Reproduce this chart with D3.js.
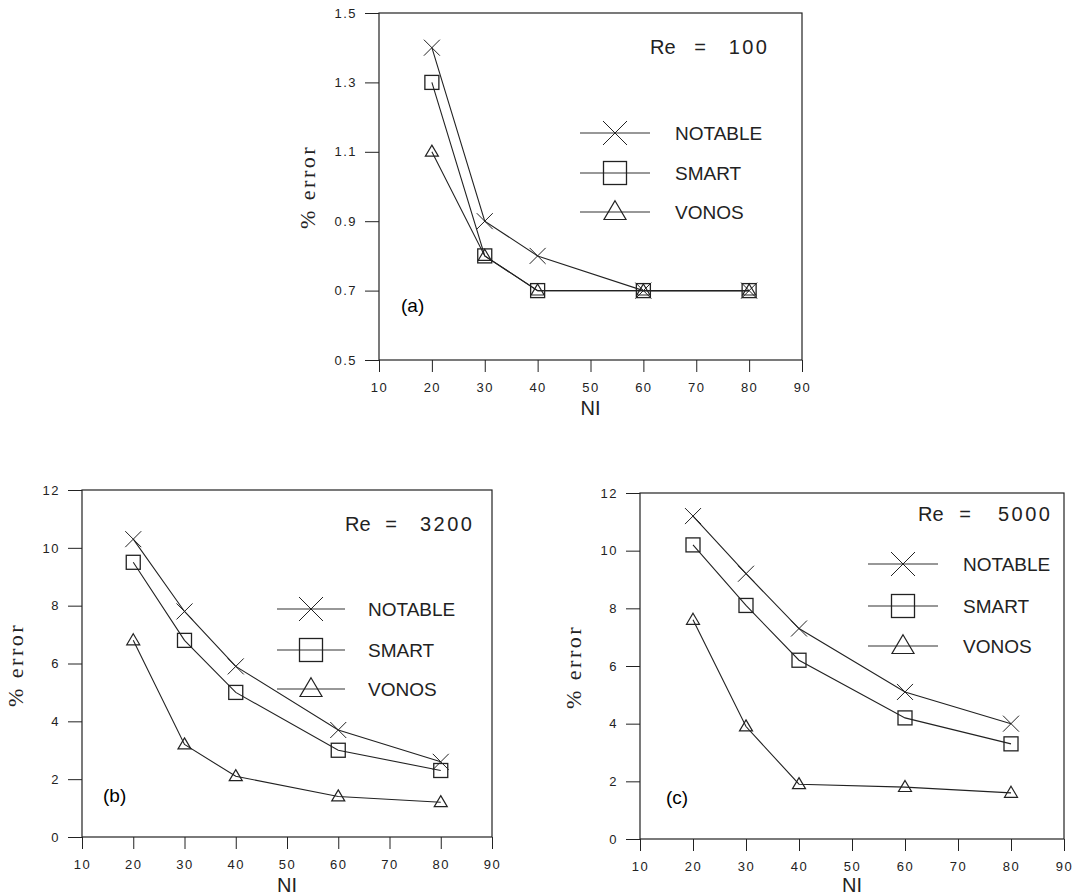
<!DOCTYPE html>
<html>
<head>
<meta charset="utf-8">
<script src="https://cdn.jsdelivr.net/npm/d3@7"></script>
<style>
  body { margin: 0; background: #fff; }
  svg { display: block; }
  text { font-family: "Liberation Sans", Arial, sans-serif; fill: #222; }
</style>
</head>
<body>
<script>
// grid sizes (x values) shared by all three panels
const ni = [20, 30, 40, 60, 80];
const seriesNames = ["NOTABLE", "SMART", "VONOS"];

// Re = 100
const re100Notable = [1.4, 0.9, 0.8, 0.7, 0.7];
const re100Smart = [1.3, 0.8, 0.7, 0.7, 0.7];
const re100Vonos = [1.1, 0.8, 0.7, 0.7, 0.7];

// Re = 3200
const re3200Notable = [10.3, 7.8, 5.9, 3.7, 2.6];
const re3200Smart = [9.5, 6.8, 5.0, 3.0, 2.3];
const re3200Vonos = [6.8, 3.2, 2.1, 1.4, 1.2];

// Re = 5000
const re5000Notable = [11.2, 9.2, 7.3, 5.1, 4.0];
const re5000Smart = [10.2, 8.1, 6.2, 4.2, 3.3];
const re5000Vonos = [7.6, 3.9, 1.9, 1.8, 1.6];

// ticks
const xTicks = [10, 20, 30, 40, 50, 60, 70, 80, 90];
const yTicksA = [0.5, 0.7, 0.9, 1.1, 1.3, 1.5];
const yTicksBC = [0, 2, 4, 6, 8, 10, 12];

const width = 1074, height = 896;

const svg = d3.select("body").append("svg")
  .attr("width", width)
  .attr("height", height);

// panel layout
const panels = [
  {
    tag: "(a)", reNum: "100",
    box: { l: 379, r: 802, t: 13, b: 360 },
    yDomain: [0.5, 1.5], yTicks: yTicksA, yFmt: d3.format(".1f"),
    series: [re100Notable, re100Smart, re100Vonos],
    reBox: { x0: 650, xe: 700, x1: 767, y: 54 },
    legend: { x0: 580, x1: 650, mx: 615, tx: 675, ys: [133, 173, 212] },
    tagPos: { x: 401, y: 312 },
    ylab: { x: 307, y: 187 }
  },
  {
    tag: "(b)", reNum: "3200",
    box: { l: 82, r: 492, t: 490, b: 837 },
    yDomain: [0, 12], yTicks: yTicksBC, yFmt: d3.format("d"),
    series: [re3200Notable, re3200Smart, re3200Vonos],
    reBox: { x0: 345, xe: 391, x1: 472, y: 531 },
    legend: { x0: 277, x1: 345, mx: 311, tx: 368, ys: [609, 650, 689] },
    tagPos: { x: 103, y: 802 },
    ylab: { x: 15, y: 665 }
  },
  {
    tag: "(c)", reNum: "5000",
    box: { l: 640, r: 1064, t: 493, b: 839 },
    yDomain: [0, 12], yTicks: yTicksBC, yFmt: d3.format("d"),
    series: [re5000Notable, re5000Smart, re5000Vonos],
    reBox: { x0: 918, xe: 965, x1: 1050, y: 521 },
    legend: { x0: 868, x1: 938, mx: 903, tx: 963, ys: [564, 606, 646] },
    tagPos: { x: 666, y: 804 },
    ylab: { x: 573, y: 667 }
  }
];

// marker drawing
function drawMarker(g, kind, cx, cy, s) {
  if (kind === 0) {
    g.append("path")
      .attr("d", `M${cx - s},${cy - s}L${cx + s},${cy + s}M${cx - s},${cy + s}L${cx + s},${cy - s}`)
      .attr("stroke", "#222").attr("stroke-width", 1).attr("fill", "none");
  } else if (kind === 1) {
    g.append("rect")
      .attr("x", cx - s).attr("y", cy - s)
      .attr("width", 2 * s).attr("height", 2 * s)
      .attr("stroke", "#222").attr("stroke-width", 1.3).attr("fill", "none");
  } else {
    const h = s * 1.7;
    g.append("path")
      .attr("d", `M${cx},${cy - h * 0.6}L${cx + s},${cy + h * 0.4}L${cx - s},${cy + h * 0.4}Z`)
      .attr("stroke", "#222").attr("stroke-width", 1.2).attr("fill", "none");
  }
}

const dataSize = [8, 7, 6.5];
const legendSize = [12, 11.5, 11];

panels.forEach(p => {
  const g = svg.append("g");
  const x = d3.scaleLinear().domain([10, 90]).range([p.box.l, p.box.r]);
  const y = d3.scaleLinear().domain(p.yDomain).range([p.box.b, p.box.t]);

  // frame
  g.append("rect")
    .attr("x", p.box.l).attr("y", p.box.t)
    .attr("width", p.box.r - p.box.l).attr("height", p.box.b - p.box.t)
    .attr("fill", "none").attr("stroke", "#222").attr("stroke-width", 1.2);

  // x axis
  const xAxis = d3.axisBottom(x).tickValues(xTicks).tickSize(12).tickPadding(11);
  const gx = g.append("g").attr("transform", `translate(0,${p.box.b})`).call(xAxis);
  gx.select(".domain").remove();
  gx.selectAll("line").attr("stroke", "#222");
  gx.selectAll("text")
    .style("font-size", "13px").style("letter-spacing", "1.5px")
    .style("font-family", "'Liberation Sans', Arial, sans-serif").attr("fill", "#222");

  // y axis
  const yAxis = d3.axisLeft(y).tickValues(p.yTicks).tickSize(14).tickPadding(8).tickFormat(p.yFmt);
  const gy = g.append("g").attr("transform", `translate(${p.box.l},0)`).call(yAxis);
  gy.select(".domain").remove();
  gy.selectAll("line").attr("stroke", "#222");
  gy.selectAll("text")
    .style("font-size", "13px").style("letter-spacing", "1.5px")
    .style("font-family", "'Liberation Sans', Arial, sans-serif").attr("fill", "#222");

  // axis titles
  g.append("text")
    .attr("x", (p.box.l + p.box.r) / 2)
    .attr("y", Math.min(p.box.b + 55, height - 4))
    .attr("text-anchor", "middle")
    .style("font-size", "20px")
    .text("NI");

  g.append("text")
    .attr("transform", `translate(${p.ylab.x},${p.ylab.y}) rotate(-90)`)
    .attr("text-anchor", "middle")
    .attr("dominant-baseline", "central")
    .style("font-family", "'Liberation Serif', 'Times New Roman', serif")
    .style("font-size", "22px")
    .style("letter-spacing", "2.5px")
    .text("% error");

  // series lines and markers
  const line = d3.line().x((d, i) => x(ni[i])).y(d => y(d));
  p.series.forEach((vals, k) => {
    g.append("path")
      .datum(vals)
      .attr("d", line)
      .attr("fill", "none")
      .attr("stroke", "#222")
      .attr("stroke-width", 1.1);
    vals.forEach((v, i) => drawMarker(g, k, x(ni[i]), y(v), dataSize[k]));
  });

  // legend
  seriesNames.forEach((name, k) => {
    const ly = p.legend.ys[k];
    g.append("line")
      .attr("x1", p.legend.x0).attr("x2", p.legend.x1)
      .attr("y1", ly).attr("y2", ly)
      .attr("stroke", "#333").attr("stroke-width", 1.1);
    drawMarker(g, k, p.legend.mx, ly, legendSize[k]);
    g.append("text")
      .attr("x", p.legend.tx).attr("y", ly + 7)
      .style("font-size", "19px")
      .text(name);
  });

  // Reynolds number label, in three pieces
  const reG = g.append("g").style("font-size", "20px");
  reG.append("text")
    .attr("x", p.reBox.x0).attr("y", p.reBox.y)
    .text("Re");
  reG.append("text")
    .attr("x", p.reBox.xe).attr("y", p.reBox.y)
    .attr("text-anchor", "middle")
    .text("=");
  reG.append("text")
    .attr("x", p.reBox.x1 + 2.5).attr("y", p.reBox.y)
    .attr("text-anchor", "end")
    .style("letter-spacing", "2.5px")
    .text(p.reNum);

  // panel tag
  g.append("text")
    .attr("x", p.tagPos.x).attr("y", p.tagPos.y)
    .style("font-size", "19px")
    .style("fill", "#000")
    .text(p.tag);
});
</script>
</body>
</html>
